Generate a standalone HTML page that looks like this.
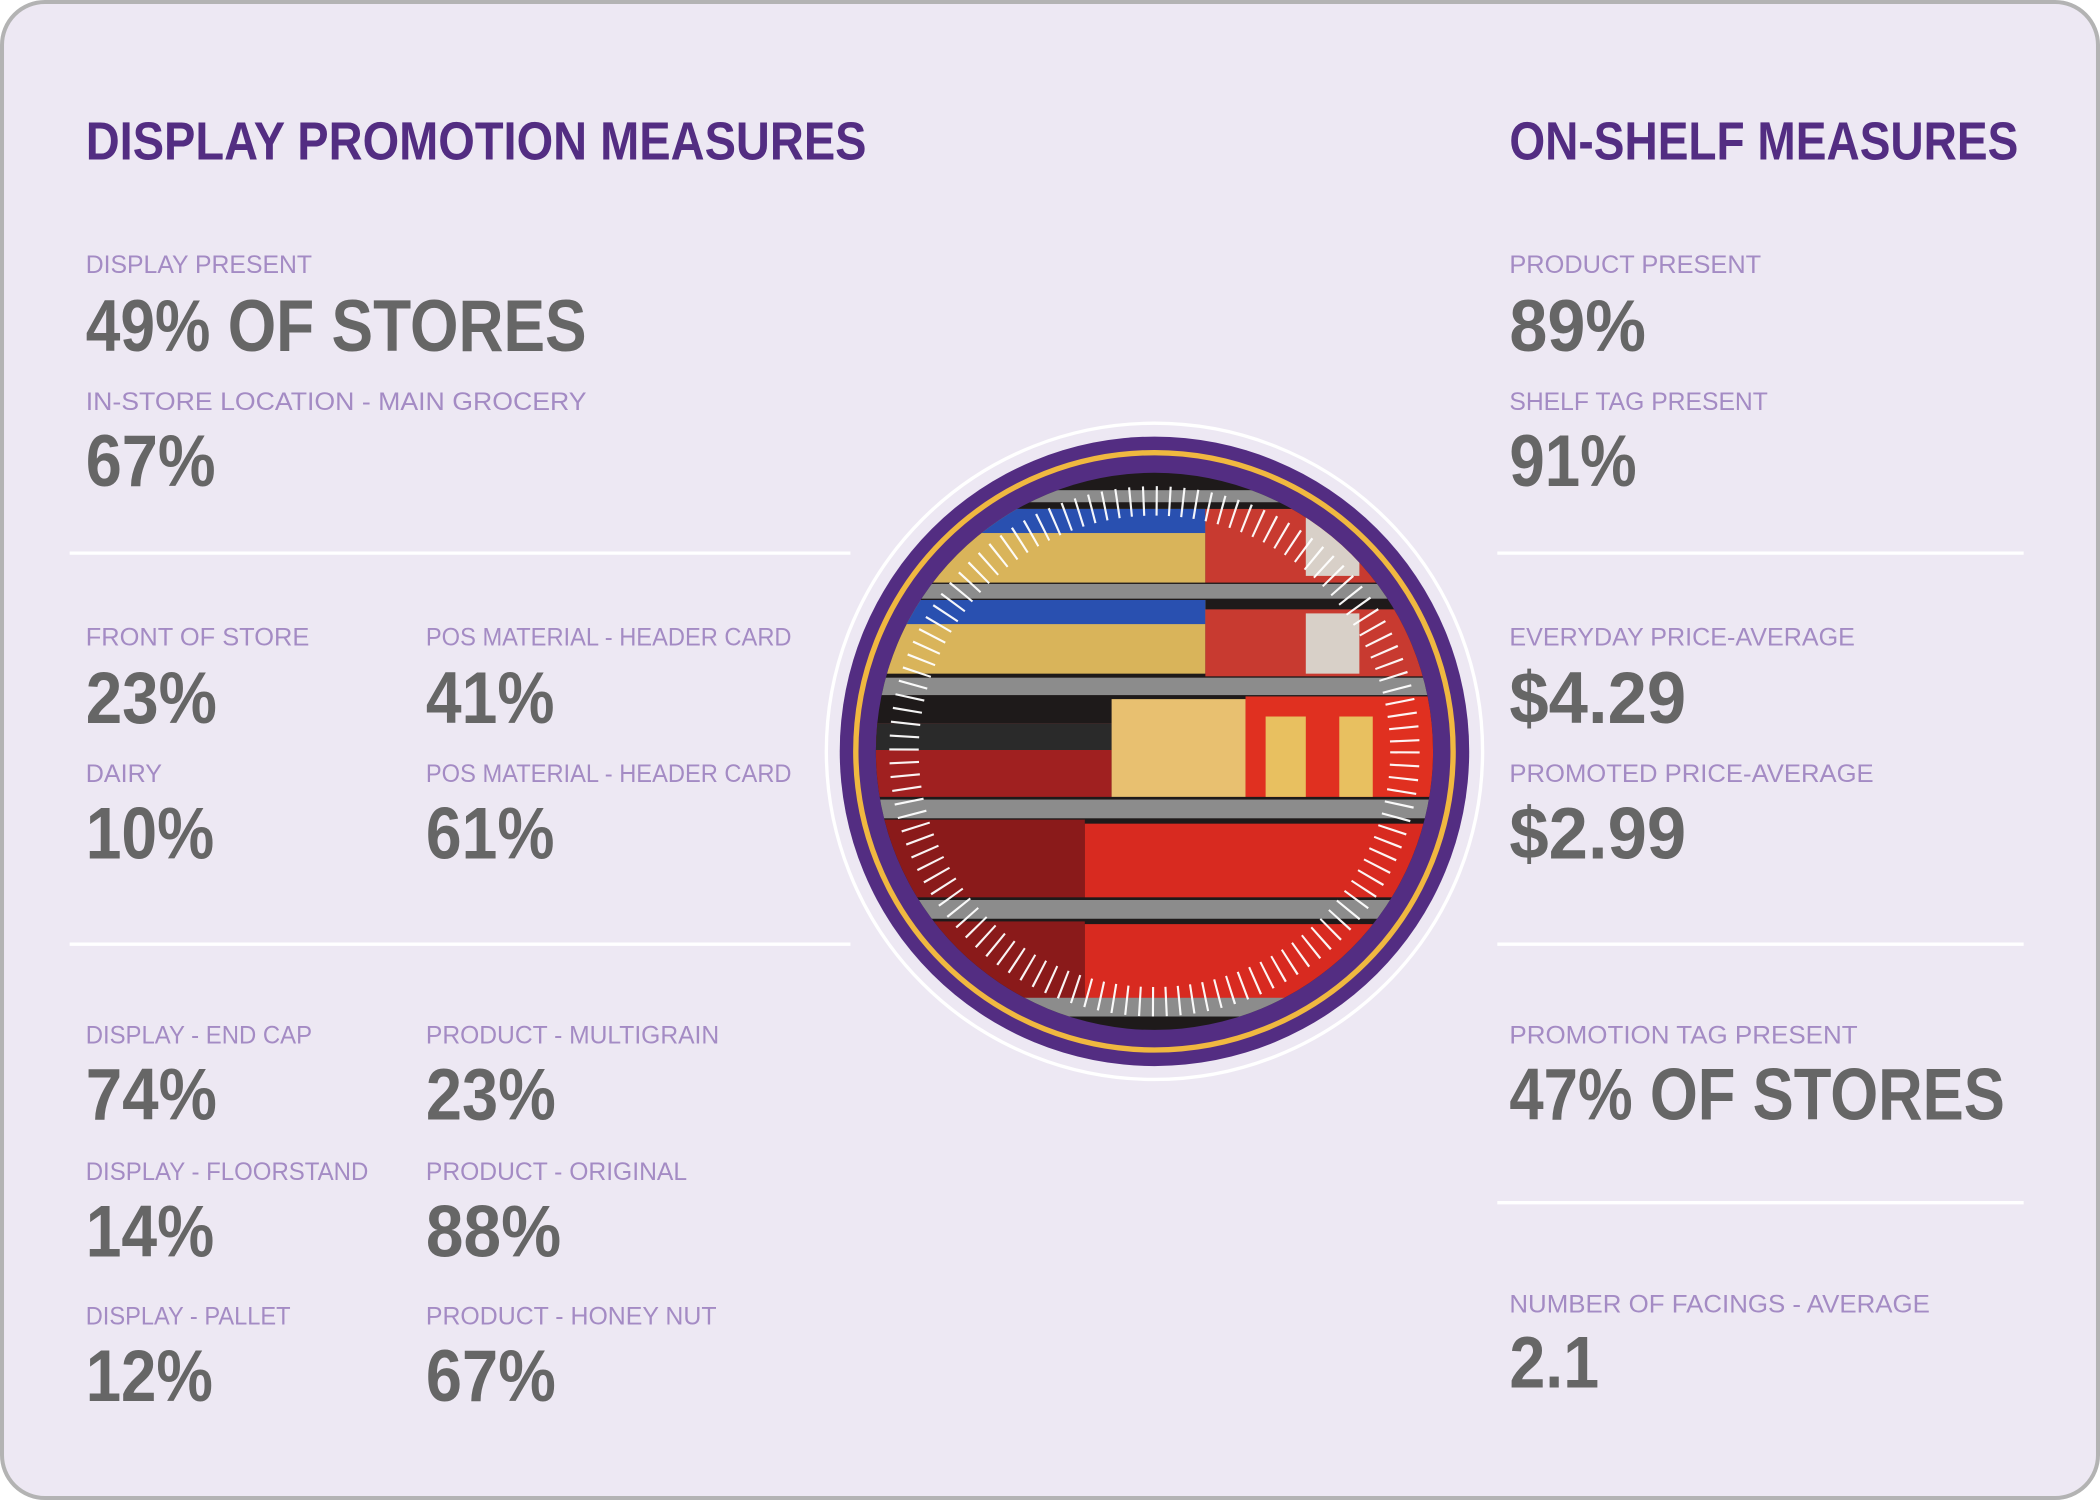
<!DOCTYPE html>
<html><head><meta charset="utf-8"><style>
html,body{margin:0;padding:0;background:#fff;}
svg{display:block;}
.t{font-family:"Liberation Sans",sans-serif;font-weight:bold;fill:#532d82;font-size:40px;}
.l{font-family:"Liberation Sans",sans-serif;fill:#a48bc4;font-size:18.5px;}
.v{font-family:"Liberation Sans",sans-serif;font-weight:bold;fill:#666;font-size:55px;}
</style></head><body>
<svg width="2100" height="1500" viewBox="0 0 1568 1120" xmlns="http://www.w3.org/2000/svg">
<rect x="0" y="0" width="1568" height="1120" fill="#ffffff"/>
<rect x="1.5" y="1.5" width="1565" height="1117" rx="32" fill="#ede8f3" stroke="#b3b3b3" stroke-width="3"/>
<g stroke="#ffffff" stroke-width="2.5">
<line x1="52" y1="413" x2="635" y2="413"/><line x1="52" y1="705" x2="635" y2="705"/>
<line x1="1118" y1="413" x2="1511" y2="413"/><line x1="1118" y1="705" x2="1511" y2="705"/><line x1="1118" y1="898" x2="1511" y2="898"/>
</g>
<text class="t" x="64" y="119" textLength="583" lengthAdjust="spacingAndGlyphs">DISPLAY PROMOTION MEASURES</text>
<text class="t" x="1127" y="119" textLength="380" lengthAdjust="spacingAndGlyphs">ON-SHELF MEASURES</text>
<g>
<text class="l" x="64" y="204" textLength="169" lengthAdjust="spacingAndGlyphs">DISPLAY PRESENT</text>
<text class="v" x="64" y="262" textLength="374" lengthAdjust="spacingAndGlyphs">49% OF STORES</text>
<text class="l" x="64" y="306" textLength="374" lengthAdjust="spacingAndGlyphs">IN-STORE LOCATION - MAIN GROCERY</text>
<text class="v" x="64" y="363" textLength="97" lengthAdjust="spacingAndGlyphs">67%</text>
<text class="l" x="64" y="482" textLength="167" lengthAdjust="spacingAndGlyphs">FRONT OF STORE</text>
<text class="v" x="64" y="540" textLength="98" lengthAdjust="spacingAndGlyphs">23%</text>
<text class="l" x="318" y="482" textLength="273" lengthAdjust="spacingAndGlyphs">POS MATERIAL - HEADER CARD</text>
<text class="v" x="318" y="540" textLength="96" lengthAdjust="spacingAndGlyphs">41%</text>
<text class="l" x="64" y="584" textLength="57" lengthAdjust="spacingAndGlyphs">DAIRY</text>
<text class="v" x="64" y="641" textLength="96" lengthAdjust="spacingAndGlyphs">10%</text>
<text class="l" x="318" y="584" textLength="273" lengthAdjust="spacingAndGlyphs">POS MATERIAL - HEADER CARD</text>
<text class="v" x="318" y="641" textLength="96" lengthAdjust="spacingAndGlyphs">61%</text>
<text class="l" x="64" y="779" textLength="169" lengthAdjust="spacingAndGlyphs">DISPLAY - END CAP</text>
<text class="v" x="64" y="836" textLength="98" lengthAdjust="spacingAndGlyphs">74%</text>
<text class="l" x="318" y="779" textLength="219" lengthAdjust="spacingAndGlyphs">PRODUCT - MULTIGRAIN</text>
<text class="v" x="318" y="836" textLength="97" lengthAdjust="spacingAndGlyphs">23%</text>
<text class="l" x="64" y="881" textLength="211" lengthAdjust="spacingAndGlyphs">DISPLAY - FLOORSTAND</text>
<text class="v" x="64" y="938" textLength="96" lengthAdjust="spacingAndGlyphs">14%</text>
<text class="l" x="318" y="881" textLength="195" lengthAdjust="spacingAndGlyphs">PRODUCT - ORIGINAL</text>
<text class="v" x="318" y="938" textLength="101" lengthAdjust="spacingAndGlyphs">88%</text>
<text class="l" x="64" y="989" textLength="153" lengthAdjust="spacingAndGlyphs">DISPLAY - PALLET</text>
<text class="v" x="64" y="1046" textLength="95" lengthAdjust="spacingAndGlyphs">12%</text>
<text class="l" x="318" y="989" textLength="217" lengthAdjust="spacingAndGlyphs">PRODUCT - HONEY NUT</text>
<text class="v" x="318" y="1046" textLength="97" lengthAdjust="spacingAndGlyphs">67%</text>

<text class="l" x="1127" y="204" textLength="188" lengthAdjust="spacingAndGlyphs">PRODUCT PRESENT</text>
<text class="v" x="1127" y="262" textLength="102" lengthAdjust="spacingAndGlyphs">89%</text>
<text class="l" x="1127" y="306" textLength="193" lengthAdjust="spacingAndGlyphs">SHELF TAG PRESENT</text>
<text class="v" x="1127" y="363" textLength="95" lengthAdjust="spacingAndGlyphs">91%</text>
<text class="l" x="1127" y="482" textLength="258" lengthAdjust="spacingAndGlyphs">EVERYDAY PRICE-AVERAGE</text>
<text class="v" x="1127" y="540" textLength="132" lengthAdjust="spacingAndGlyphs">$4.29</text>
<text class="l" x="1127" y="584" textLength="272" lengthAdjust="spacingAndGlyphs">PROMOTED PRICE-AVERAGE</text>
<text class="v" x="1127" y="641" textLength="132" lengthAdjust="spacingAndGlyphs">$2.99</text>
<text class="l" x="1127" y="779" textLength="260" lengthAdjust="spacingAndGlyphs">PROMOTION TAG PRESENT</text>
<text class="v" x="1127" y="836" textLength="370" lengthAdjust="spacingAndGlyphs">47% OF STORES</text>
<text class="l" x="1127" y="980" textLength="314" lengthAdjust="spacingAndGlyphs">NUMBER OF FACINGS - AVERAGE</text>
<text class="v" x="1127" y="1036" textLength="67" lengthAdjust="spacingAndGlyphs">2.1</text>
</g>

<defs><clipPath id="c"><circle cx="862" cy="561" r="208"/></clipPath></defs>
<circle cx="862" cy="561" r="245" fill="none" stroke="#ffffff" stroke-width="2.5"/>
<circle cx="862" cy="561" r="235" fill="#532d82"/>
<circle cx="862" cy="561" r="223" fill="none" stroke="#f0b840" stroke-width="4"/>
<g clip-path="url(#c)">
<rect x="650" y="350" width="430" height="420" fill="#1e1a1a"/>
<rect x="650" y="380" width="250" height="55" fill="#d9b45a"/>
<rect x="660" y="380" width="240" height="18" fill="#2950b0"/>
<rect x="900" y="380" width="180" height="55" fill="#c83a30"/>
<rect x="975" y="385" width="40" height="45" fill="#d8d0c8"/>
<rect x="650" y="448" width="250" height="55" fill="#d9b45a"/>
<rect x="660" y="448" width="240" height="18" fill="#2950b0"/>
<rect x="900" y="455" width="180" height="50" fill="#c83a30"/>
<rect x="975" y="458" width="40" height="45" fill="#d8d0c8"/>
<rect x="650" y="540" width="180" height="55" fill="#a02020"/>
<rect x="650" y="540" width="180" height="20" fill="#2a2a2a"/>
<rect x="830" y="522" width="100" height="73" fill="#e8c070"/>
<rect x="930" y="520" width="150" height="75" fill="#e03020"/>
<rect x="945" y="535" width="30" height="60" fill="#e8c060"/>
<rect x="1000" y="535" width="25" height="60" fill="#e8c060"/>
<rect x="650" y="612" width="160" height="58" fill="#8a1a1a"/>
<rect x="810" y="615" width="270" height="55" fill="#d82a20"/>
<rect x="650" y="688" width="160" height="58" fill="#8a1a1a"/>
<rect x="810" y="690" width="270" height="56" fill="#d82a20"/>
<g fill="#8c8c8c">
<rect x="650" y="366" width="430" height="9"/>
<rect x="650" y="436" width="430" height="11"/>
<rect x="650" y="506" width="430" height="13"/>
<rect x="650" y="597" width="430" height="14"/>
<rect x="650" y="672" width="430" height="14"/>
<rect x="650" y="745" width="430" height="14"/>
</g>
</g>
<circle cx="862" cy="561" r="187" fill="none" stroke="#ffffff" stroke-width="22" stroke-dasharray="1.6 8.2" opacity="0.95"/>
</svg>
</body></html>
